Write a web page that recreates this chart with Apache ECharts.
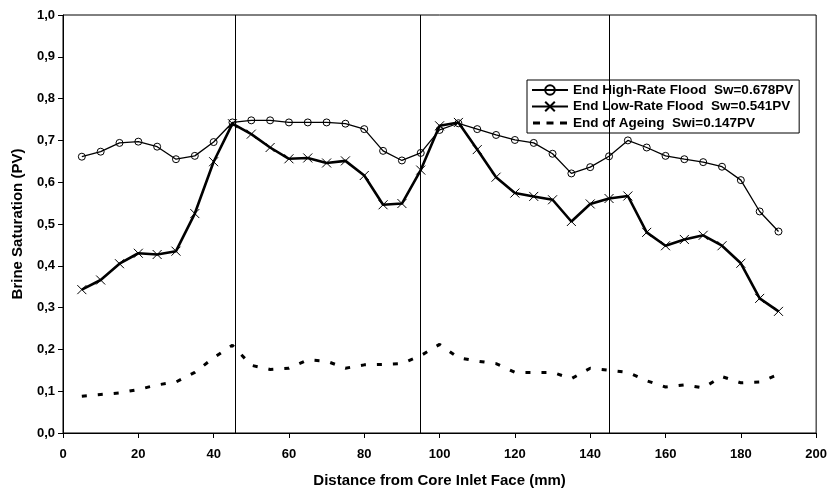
<!DOCTYPE html>
<html>
<head>
<meta charset="utf-8">
<script src="https://cdn.jsdelivr.net/npm/echarts@6/dist/echarts.min.js"></script>
<style>
  html, body { margin: 0; padding: 0; background: #fff; }
  #chart { width: 830px; height: 493px; }
</style>
</head>
<body>
<div id="chart"></div>
<script>
// Distance along the core (mm)
const distance = [5, 10, 15, 20, 25, 30, 35, 40, 45, 50, 55, 60, 65, 70, 75, 80, 85, 90, 95,
  100, 105, 110, 115, 120, 125, 130, 135, 140, 145, 150, 155, 160, 165, 170, 175, 180, 185, 190];

// Brine saturation profiles (PV)
const highRate = [0.661, 0.673, 0.694, 0.697, 0.685, 0.655, 0.663, 0.696, 0.743, 0.748, 0.748, 0.743, 0.743,
  0.743, 0.740, 0.727, 0.675, 0.652, 0.670, 0.725, 0.741, 0.727, 0.713, 0.701, 0.694, 0.668, 0.621, 0.636,
  0.662, 0.700, 0.683, 0.663, 0.655, 0.648, 0.637, 0.605, 0.530, 0.482];
const lowRate = [0.343, 0.366, 0.405, 0.430, 0.427, 0.435, 0.525, 0.649, 0.740, 0.715, 0.683, 0.656, 0.658,
  0.646, 0.651, 0.616, 0.546, 0.549, 0.629, 0.735, 0.743, 0.678, 0.612, 0.574, 0.566, 0.558, 0.506, 0.548,
  0.561, 0.567, 0.480, 0.448, 0.463, 0.473, 0.448, 0.406, 0.322, 0.291];
const ageing = [0.088, 0.092, 0.096, 0.104, 0.115, 0.122, 0.145, 0.180, 0.210, 0.162, 0.152, 0.155, 0.175,
  0.172, 0.155, 0.163, 0.164, 0.166, 0.185, 0.212, 0.180, 0.172, 0.166, 0.145, 0.145, 0.145, 0.130, 0.155,
  0.150, 0.145, 0.125, 0.110, 0.115, 0.108, 0.135, 0.120, 0.122, 0.140];

const seriesNames = [
  'End High-Rate Flood  Sw=0.678PV',
  'End Low-Rate Flood  Sw=0.541PV',
  'End of Ageing  Swi=0.147PV'
];

// Section boundaries along the core (mm)
const sectionBounds = [45.7, 95, 145];

const xTitle = 'Distance from Core Inlet Face (mm)';
const yTitle = 'Brine Saturation (PV)';

const pairs = arr => distance.map((d, i) => [d, arr[i]]);
const FONT = '"Liberation Sans", Arial, sans-serif';

// Legend key for the dashed profile: three short dashes inside a 36x12 box
const dashedKey = 'path://M0,-4.5L36,-4.5L36,-4.5Z M0,7.5L0.01,7.5L0,7.5Z ' +
  'M1,0h7v3H1Z M14.5,0h7v3h-7Z M28,0h7v3h-7Z';

const chart = echarts.init(document.getElementById('chart'), null, { renderer: 'canvas' });

chart.setOption({
  animation: false,
  backgroundColor: '#fff',
  grid: { left: 63, right: 13, top: 15, bottom: 58, show: true, borderColor: '#000', borderWidth: 1 },
  legend: {
    orient: 'vertical',
    left: 527,
    top: 80,
    padding: [3, 6, 3, 4],
    itemGap: 2.5,
    itemWidth: 36,
    itemHeight: 12,
    borderColor: '#000',
    borderWidth: 1,
    backgroundColor: '#fff',
    textStyle: { fontFamily: FONT, fontWeight: 'bold', fontSize: 13.5, color: '#000', lineHeight: 12 },
    data: [
      { name: seriesNames[0] },
      { name: seriesNames[1] },
      { name: seriesNames[2], icon: dashedKey }
    ]
  },
  xAxis: {
    type: 'value',
    min: 0, max: 200, interval: 20,
    name: xTitle,
    nameLocation: 'middle',
    nameGap: 40,
    nameTextStyle: { fontFamily: FONT, fontWeight: 'bold', fontSize: 15, color: '#000' },
    axisLine: { lineStyle: { color: '#000', width: 1 } },
    axisTick: { show: true, inside: false, length: 5, lineStyle: { color: '#000' } },
    axisLabel: { fontFamily: FONT, fontWeight: 'bold', fontSize: 13, color: '#000', margin: 15 },
    splitLine: { show: false }
  },
  yAxis: {
    type: 'value',
    min: 0, max: 1, interval: 0.1,
    name: yTitle,
    nameLocation: 'middle',
    nameGap: 38,
    nameRotate: 90,
    nameTextStyle: { fontFamily: FONT, fontWeight: 'bold', fontSize: 15, color: '#000' },
    axisLine: { show: true, lineStyle: { color: '#000', width: 1 } },
    axisTick: { show: true, inside: false, length: 5, lineStyle: { color: '#000' } },
    axisLabel: {
      fontFamily: FONT, fontWeight: 'bold', fontSize: 13, color: '#000', margin: 8,
      formatter: v => v.toFixed(1).replace('.', ',')
    },
    splitLine: { show: false }
  },
  series: [
    {
      name: seriesNames[0],
      type: 'line',
      data: pairs(highRate),
      symbol: 'circle',
      symbolSize: 7,
      z: 4,
      lineStyle: { color: '#000', width: 1.3 },
      itemStyle: { color: 'rgba(255,255,255,0)', borderColor: '#000', borderWidth: 1 },
      markLine: {
        silent: true,
        symbol: ['none', 'none'],
        label: { show: false },
        lineStyle: { color: '#000', width: 1, type: 'solid' },
        data: sectionBounds.map(v => ({ xAxis: v }))
      }
    },
    {
      name: seriesNames[1],
      type: 'line',
      data: pairs(lowRate),
      symbol: 'path://M0 0L10 10M10 0L0 10',
      symbolSize: 9,
      z: 3,
      lineStyle: { color: '#000', width: 2.6 },
      itemStyle: { color: '#000', borderColor: '#000', borderWidth: 1 }
    },
    {
      name: seriesNames[2],
      type: 'line',
      data: pairs(ageing),
      symbol: 'none',
      showSymbol: false,
      z: 2,
      lineStyle: { color: '#000', width: 3, type: [5, 11] },
      itemStyle: { color: '#000' }
    }
  ]
});
</script>
</body>
</html>
